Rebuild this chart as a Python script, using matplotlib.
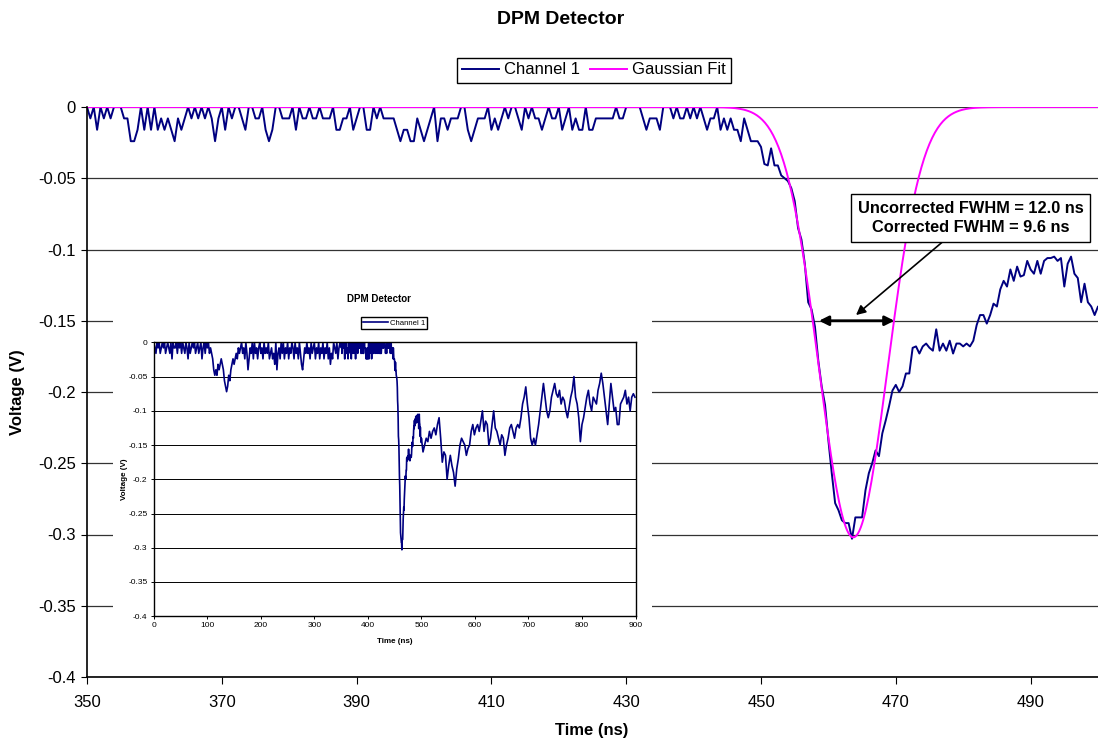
import numpy as np
import matplotlib
matplotlib.use("Agg")
import matplotlib.pyplot as plt
from matplotlib.ticker import FuncFormatter

plt.rcParams['font.family'] = ['Liberation Sans', 'DejaVu Sans']

# --- channel 1 ---
# 0-348 ns, 2 ns steps, in ADC counts below zero (1 count ~ 8 mV)
early_counts = ("0120102101" "0210120301" "1020102012" "0130210102" "1021031020"
                "1021235656" "4543457898" "6754343231" "2102130253" "1203021310"
                "2130212032" "1324052130" "2031203120" "1302130245" "3120213021"
                "0312031203" "1203142301" "20310")
# 350-449.5 ns, 0.5 ns steps, same units
pre_counts = ("0102010100" "0113320202" "0212123121" "0101010131" "0201001200"
              "1102320011" "1020110110" "1110221102" "1002201011" "1123223312"
              "3210311211" "1002321110" "2121010012" "0101121011" "0210212202"
              "2111111011" "0000012111" "2000101101" "0101211021" "2122312333")
# 450-500 ns, 0.5 ns steps, volts
pulse_v = [-0.028, -0.040, -0.041, -0.029, -0.041, -0.041, -0.048, -0.050, -0.052, -0.057,
           -0.066, -0.085, -0.093, -0.110, -0.137, -0.142, -0.154, -0.178, -0.196, -0.209,
           -0.234, -0.257, -0.278, -0.283, -0.290, -0.292, -0.292, -0.303, -0.288, -0.288,
           -0.288, -0.269, -0.257, -0.250, -0.241, -0.245, -0.229, -0.220, -0.210, -0.199,
           -0.195, -0.200, -0.196, -0.187, -0.187, -0.169, -0.168, -0.173, -0.168, -0.166,
           -0.169, -0.171, -0.156, -0.171, -0.166, -0.171, -0.164, -0.173, -0.166, -0.166,
           -0.168, -0.166, -0.168, -0.164, -0.153, -0.146, -0.146, -0.152, -0.146, -0.138,
           -0.140, -0.128, -0.122, -0.126, -0.114, -0.122, -0.112, -0.119, -0.118, -0.108,
           -0.114, -0.117, -0.108, -0.117, -0.108, -0.106, -0.106, -0.105, -0.108, -0.106,
           -0.126, -0.110, -0.105, -0.117, -0.120, -0.137, -0.124, -0.137, -0.140, -0.146,
           -0.140]
# 503-899 ns, 3 ns steps, volts (only visible in the inset)
tail_v = [-0.16, -0.15, -0.14, -0.145, -0.13, -0.14, -0.13, -0.125, -0.135, -0.12,
          -0.11, -0.14, -0.175, -0.16, -0.165, -0.2, -0.18, -0.165, -0.18, -0.19,
          -0.21, -0.185, -0.17, -0.15, -0.14, -0.145, -0.15, -0.165, -0.155, -0.15,
          -0.13, -0.12, -0.135, -0.125, -0.12, -0.13, -0.115, -0.1, -0.13, -0.115,
          -0.12, -0.15, -0.14, -0.12, -0.1, -0.125, -0.13, -0.14, -0.15, -0.135,
          -0.14, -0.165, -0.15, -0.14, -0.125, -0.12, -0.13, -0.14, -0.125, -0.12,
          -0.125, -0.11, -0.09, -0.08, -0.065, -0.09, -0.11, -0.14, -0.15, -0.14,
          -0.15, -0.135, -0.12, -0.1, -0.08, -0.06, -0.08, -0.1, -0.11, -0.1,
          -0.08, -0.07, -0.06, -0.075, -0.08, -0.07, -0.09, -0.08, -0.085, -0.1,
          -0.11, -0.095, -0.08, -0.07, -0.05, -0.08, -0.09, -0.11, -0.145, -0.12,
          -0.11, -0.095, -0.08, -0.07, -0.09, -0.1, -0.08, -0.085, -0.09, -0.07,
          -0.06, -0.045, -0.06, -0.08, -0.1, -0.12, -0.09, -0.06, -0.08, -0.1,
          -0.095, -0.12, -0.12, -0.09, -0.085, -0.08, -0.07, -0.09, -0.08, -0.1,
          -0.08, -0.075, -0.08]
volts_per_count = 0.008

# gaussian fit, parameters as quoted on the chart
fit_amp = -0.302
fit_center = 463.7
fit_fwhm = 12.0

y_ticks = [0, -0.05, -0.1, -0.15, -0.2, -0.25, -0.3, -0.35, -0.4]
main_x_ticks = [350, 370, 390, 410, 430, 450, 470, 490]
inset_x_ticks = [0, 100, 200, 300, 400, 500, 600, 700, 800, 900]

# assemble the trace
t = np.concatenate([2.0 * np.arange(len(early_counts)),
                    350 + 0.5 * np.arange(len(pre_counts)),
                    450 + 0.5 * np.arange(len(pulse_v)),
                    503 + 3.0 * np.arange(len(tail_v))])
v = np.concatenate([-volts_per_count * np.array([int(c) for c in early_counts]),
                    -volts_per_count * np.array([int(c) for c in pre_counts]),
                    np.array(pulse_v), np.array(tail_v)])

sigma = fit_fwhm / (2 * np.sqrt(2 * np.log(2)))
t_fit = np.linspace(350, 500, 751)
v_fit = fit_amp * np.exp(-0.5 * ((t_fit - fit_center) / sigma) ** 2)

navy = '#000080'
magenta = '#FF00FF'
fmt = FuncFormatter(lambda val, pos: '{:g}'.format(round(val, 3)))

W, H = 1098, 740
fig = plt.figure(figsize=(W / 100, H / 100), dpi=100)

# main chart
ax = fig.add_axes([87 / W, 1 - 677 / H, (W - 87) / W, 570 / H])
ax.plot(t, v, color=navy, lw=1.4, label='Channel 1')
ax.plot(t_fit, v_fit, color=magenta, lw=1.4, label='Gaussian Fit')
ax.set_xlim(350, 500)
ax.set_ylim(-0.4, 0)
ax.set_xticks(main_x_ticks)
ax.set_yticks(y_ticks)
ax.yaxis.set_major_formatter(fmt)
ax.grid(axis='y', color='#333333', lw=0.9)
ax.set_axisbelow(True)
for s in ['top', 'right']:
    ax.spines[s].set_visible(False)
for s in ['left', 'bottom']:
    ax.spines[s].set_linewidth(1.2)
ax.tick_params(axis='x', direction='out', length=5, labelsize=12, pad=8)
ax.tick_params(axis='y', direction='out', length=4, labelsize=12, pad=4)
ax.legend(loc='center', bbox_to_anchor=(594 / W, 1 - 70 / H), bbox_transform=fig.transFigure,
          ncol=2, fontsize=12, frameon=True, fancybox=False, edgecolor='black', framealpha=1,
          handlelength=2.2, handletextpad=0.3, columnspacing=0.6, borderpad=0.3,
          borderaxespad=0)

fig.text(561 / W, 1 - 19 / H, 'DPM Detector', ha='center', va='center',
         fontsize=14, fontweight='bold')
fig.text(592 / W, 1 - 730 / H, 'Time (ns)', ha='center', va='center',
         fontsize=12, fontweight='bold')
fig.text(18 / W, 1 - 392 / H, 'Voltage (V)', ha='center', va='center', rotation=90,
         fontsize=12, fontweight='bold')

# FWHM marker and note
ax.annotate('', xy=(458.6, -0.15), xytext=(469.8, -0.15),
            arrowprops=dict(arrowstyle='<|-|>', color='black', lw=2,
                            mutation_scale=14, shrinkA=0, shrinkB=0))
ax.annotate('Uncorrected FWHM = 12.0 ns\nCorrected FWHM = 9.6 ns',
            xy=(464.1, -0.146), xytext=(481.1, -0.078),
            ha='center', va='center', fontsize=11.8, fontweight='bold', linespacing=1.3,
            bbox=dict(boxstyle='square,pad=0.42', fc='white', ec='black', lw=1),
            arrowprops=dict(arrowstyle='-|>', color='black', lw=1.2, mutation_scale=14,
                            shrinkA=0, shrinkB=0))

# inset: full record
bg = fig.add_axes([113 / W, 1 - 652 / H, 539 / W, 364 / H])
bg.set_facecolor('white')
bg.set_xticks([])
bg.set_yticks([])
for s in bg.spines.values():
    s.set_visible(False)

axi = fig.add_axes([153.8 / W, 1 - 616.2 / H, 481.7 / W, 273.8 / H])
axi.plot(t, v, color=navy, lw=1.2, label='Channel 1')
axi.set_xlim(0, 900)
axi.set_ylim(-0.4, 0)
axi.set_xticks(inset_x_ticks)
axi.set_yticks(y_ticks)
axi.yaxis.set_major_formatter(fmt)
axi.grid(axis='y', color='black', lw=0.7)
axi.set_axisbelow(True)
for s in axi.spines.values():
    s.set_linewidth(1.0)
axi.tick_params(direction='out', length=2.5, width=0.7, labelsize=6, pad=2)
axi.legend(loc='center', bbox_to_anchor=(394 / W, 1 - 323 / H), bbox_transform=fig.transFigure,
           fontsize=5.6, frameon=True, fancybox=False, edgecolor='black', framealpha=1,
           handlelength=3.2, handletextpad=0.2, borderpad=0.25, borderaxespad=0)

fig.text(378.6 / W, 1 - 299 / H, 'DPM Detector', ha='center', va='center',
         fontsize=7, fontweight='bold')
fig.text(394.5 / W, 1 - 641.6 / H, 'Time (ns)', ha='center', va='center',
         fontsize=5.8, fontweight='bold')
fig.text(124 / W, 1 - 479 / H, 'Voltage (V)', ha='center', va='center', rotation=90,
         fontsize=5.8, fontweight='bold')

fig.savefig('out.png', dpi=100, facecolor='white')
